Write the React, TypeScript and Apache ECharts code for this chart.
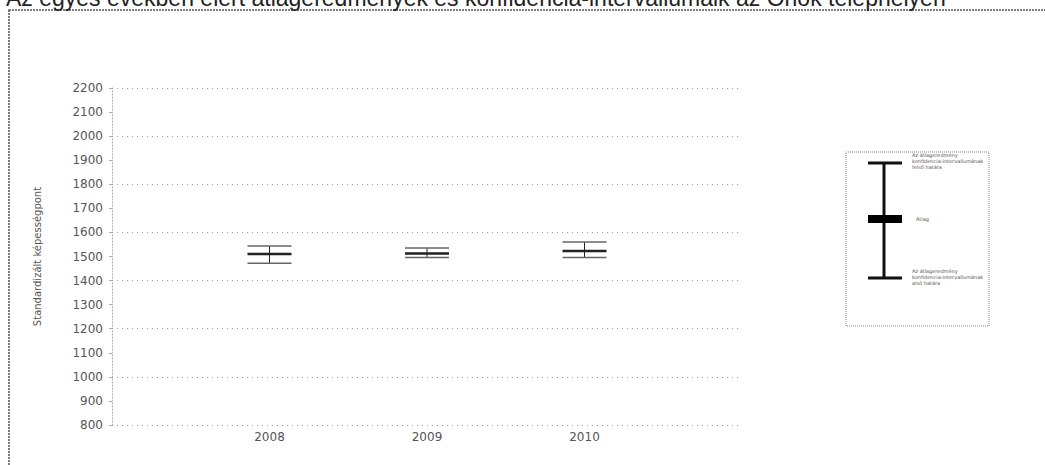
import React, { useEffect, useRef } from "react";
import * as echarts from "echarts";

const titleText =
  "Az egyes években elért átlageredmények és konfidencia-intervallumaik az Önök telephelyén";
const yAxisName = "Standardizált képességpont";
const categories = ["", "2008", "2009", "2010", ""];
const years = ["2008", "2009", "2010"];
const lowerValues = [1472, 1496, 1496];
const meanValues = [1510, 1512, 1523];
const upperValues = [1544, 1535, 1560];
const legendUpper = ["Az átlageredmény", "konfidencia-intervallumának", "felső határa"];
const legendMean = ["Átlag"];
const legendLower = ["Az átlageredmény", "konfidencia-intervallumának", "alsó határa"];

export default function App() {
  const ref = useRef<HTMLDivElement>(null);
  useEffect(() => {
    if (!ref.current) return;
    const chart = echarts.init(ref.current, null, { renderer: "svg" });
    const data = years.map((y, i) => [
      categories.indexOf(y),
      lowerValues[i],
      meanValues[i],
      upperValues[i],
    ]);
    const ink = "#222";
    const legendTextStyle = { fontSize: 5, fill: "#555", fontFamily: "DejaVu Sans", lineHeight: 6 };
    chart.setOption({
      animation: false,
      backgroundColor: "#fff",
      textStyle: { fontFamily: "DejaVu Sans" },
      grid: { left: 112, right: 303, top: 88, bottom: 40 },
      xAxis: {
        type: "category",
        data: categories,
        boundaryGap: false,
        axisLine: { show: false },
        axisTick: { show: false },
        axisLabel: { color: "#555", fontSize: 12, margin: 6, fontFamily: "DejaVu Sans" },
        splitLine: { show: false },
      },
      yAxis: [
        {
          type: "value",
          min: 800,
          max: 2200,
          interval: 100,
          name: yAxisName,
          nameLocation: "middle",
          nameGap: 70,
          nameTextStyle: { fontSize: 10, color: "#555", fontFamily: "DejaVu Sans" },
          axisLine: { show: true, lineStyle: { color: "#aaa", type: [1, 2] } },
          axisTick: { show: true, length: 3, lineStyle: { color: "#aaa" } },
          axisLabel: {
            color: "#555",
            fontSize: 12,
            margin: 9,
            fontFamily: "DejaVu Sans",
            formatter: (v: number) => String(v),
          },
          splitLine: { show: false },
        },
        {
          type: "value",
          min: 800,
          max: 2200,
          interval: 200,
          position: "left",
          axisLine: { show: false },
          axisTick: { show: false },
          axisLabel: { show: false },
          splitLine: { show: true, lineStyle: { color: "#999", type: [1, 4], width: 1 } },
        },
      ],
      series: [
        {
          type: "custom",
          data,
          renderItem: (params: any, api: any) => {
            const x = api.value(0);
            const lo = api.coord([x, api.value(1)]);
            const me = api.coord([x, api.value(2)]);
            const up = api.coord([x, api.value(3)]);
            const hw = 22;
            return {
              type: "group",
              children: [
                { type: "line", shape: { x1: lo[0], y1: lo[1], x2: up[0], y2: up[1] }, style: { stroke: ink, lineWidth: 1 } },
                { type: "line", shape: { x1: up[0] - hw, y1: up[1], x2: up[0] + hw, y2: up[1] }, style: { stroke: "#666", lineWidth: 1.5 } },
                { type: "line", shape: { x1: lo[0] - hw, y1: lo[1], x2: lo[0] + hw, y2: lo[1] }, style: { stroke: "#666", lineWidth: 1.5 } },
                { type: "line", shape: { x1: me[0] - hw, y1: me[1], x2: me[0] + hw, y2: me[1] }, style: { stroke: ink, lineWidth: 2.5 } },
              ],
            };
          },
        },
      ],
      graphic: [
        {
          type: "text",
          x: 6,
          y: 9,
          style: {
            text: titleText,
            fontSize: 23,
            fill: "#222",
            fontFamily: "Liberation Sans",
            verticalAlign: "bottom",
          },
        },
        {
          type: "rect",
          shape: { x: 9, y: 10, width: 1100, height: 500 },
          style: { fill: "none", stroke: "#555", lineWidth: 1.5, lineDash: [2, 1] },
          z: -1,
        },
        {
          type: "rect",
          shape: { x: 846, y: 152, width: 143, height: 174 },
          style: { fill: "none", stroke: "#888", lineWidth: 1, lineDash: [1, 1] },
        },
        { type: "line", shape: { x1: 884, y1: 163, x2: 884, y2: 278 }, style: { stroke: "#111", lineWidth: 3 } },
        { type: "line", shape: { x1: 868, y1: 163, x2: 902, y2: 163 }, style: { stroke: "#111", lineWidth: 3 } },
        { type: "line", shape: { x1: 868, y1: 278, x2: 902, y2: 278 }, style: { stroke: "#111", lineWidth: 3 } },
        { type: "rect", shape: { x: 868, y: 215, width: 34, height: 8 }, style: { fill: "#000" } },
        { type: "text", x: 912, y: 152, style: { ...legendTextStyle, text: legendUpper.join("\n") } },
        { type: "text", x: 916, y: 216, style: { ...legendTextStyle, text: legendMean.join("\n") } },
        { type: "text", x: 912, y: 268, style: { ...legendTextStyle, text: legendLower.join("\n") } },
      ],
    });
    return () => chart.dispose();
  }, []);
  return <div ref={ref} style={{ width: 1045, height: 465, position: "absolute", left: 0, top: 0 }} />;
}
